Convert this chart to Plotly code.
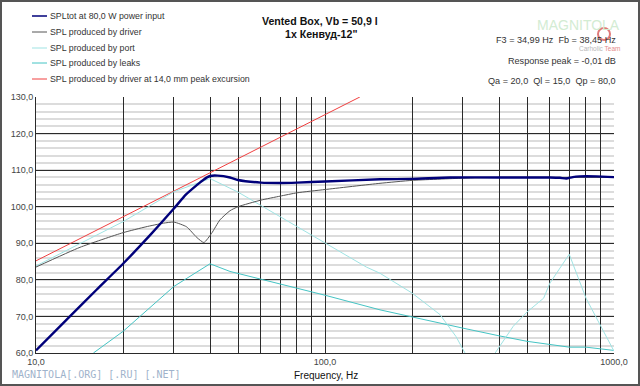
import plotly.graph_objects as go

# ---------------- data ----------------
freq_tot = [10, 13.1, 16.2, 20, 25, 30, 33, 36, 38, 40, 42.5, 46.9, 50, 60, 70, 80,
            100, 155, 200, 271, 400, 600, 650, 684, 720, 760, 870, 1000]
spl_tot = [60.7, 70.0, 77.3, 84.4, 92.5, 99.5, 103.3, 105.9, 107.4, 108.4, 108.5, 108.0,
           107.3, 106.6, 106.5, 106.6, 106.9, 107.5, 107.6, 108.0, 108.0, 108.0, 107.9,
           107.7, 108.1, 108.3, 108.3, 108.1]

freq_drv = [10, 14.2, 20, 24, 27.6, 30, 33.2, 36, 38.1, 40.5, 43.3, 46.9, 50, 60, 70, 80,
            100, 155, 200, 300, 400, 1000]
spl_drv = [83.5, 88.9, 92.9, 94.5, 95.5, 95.8, 94.5, 91.6, 90.2, 92.7, 96.4, 98.9, 100.0,
           101.8, 102.9, 103.8, 104.7, 106.4, 107.2, 107.8, 108.0, 108.0]

freq_port = [10, 20, 30, 36, 40, 50, 100, 139, 155, 200, 250, 284, 305,
             None, 388, 448, 500, 571, 600, 700, 800, 900, 1000]
spl_port = [83.8, 95.9, 104.1, 106.4, 107.7, 104.0, 90.0, 83.5, 81.8, 76.4, 70.5, 64.5, 60.0,
            None, 60.0, 67.3, 71.2, 75.0, 79.1, 87.0, 75.0, 67.3, 60.5]

freq_leak = [15.8, 20, 30, 40, 46.9, 100, 155, 200, 300, 400, 500, 700, 800, 1000]
spl_leak = [60.0, 65.9, 78.2, 84.4, 82.3, 75.8, 71.8, 69.8, 66.8, 64.7, 63.2, 61.6, 61.6, 60.7]

freq_exc = [10, 132]
spl_exc = [85.2, 130.0]

x_ticks = [10, 20, 30, 40, 50, 60, 70, 80, 90, 100, 200, 300, 400, 500, 600, 700, 800, 900, 1000]
x_labels = ["10,0", "", "", "", "", "", "", "", "", "100,0", "", "", "", "", "", "", "", "", "1000,0"]
y_ticks = [60, 70, 80, 90, 100, 110, 120, 130]
y_labels = ["60,0", "70,0", "80,0", "90,0", "100,0", "110,0", "120,0", "130,0"]

names = ["SPLtot at 80,0 W power input",
         "SPL produced by driver",
         "SPL produced by port",
         "SPL produced by leaks",
         "SPL produced by driver at 14,0 mm peak excursion"]
colors = ["#00007a", "#555555", "#9fe3e3", "#45c4c4", "#f04040"]
widths = [2.4, 1, 1, 1, 1]
shapes_ln = ["spline", "spline", "linear", "linear", "linear"]

# ---------------- layout helpers ----------------
W, H = 640, 386
L, R, T, B = 36, 614, 97, 353
def px(x):
    return (x - L) / (R - L)
def py(y):
    return (B - y) / (B - T)

FONT = "Liberation Sans, Arial, sans-serif"

fig = go.Figure()
series = [(freq_exc, spl_exc), (freq_leak, spl_leak), (freq_port, spl_port),
          (freq_drv, spl_drv), (freq_tot, spl_tot)]
order = [4, 3, 2, 1, 0]
for (fx, fy), i in zip(series, order):
    fig.add_trace(go.Scatter(x=fx, y=fy, mode="lines", name=names[i],
                             line=dict(color=colors[i], width=widths[i],
                                       shape=shapes_ln[i], smoothing=0.5),
                             connectgaps=False, showlegend=False))

fig.update_layout(
    width=W, height=H,
    margin=dict(l=L, r=W - R, t=T, b=H - B, pad=0),
    paper_bgcolor="white", plot_bgcolor="white",
    font=dict(family=FONT, size=9, color="#333333"),
    showlegend=False,
)
fig.update_xaxes(type="log", range=[1, 3], tickvals=x_ticks, ticktext=x_labels,
                 showgrid=True, gridcolor="#2a2a2a", gridwidth=1,
                 showline=True, linecolor="#2a2a2a", linewidth=1,
                 ticks="", tickfont=dict(size=9, color="#444444"), zeroline=False)
fig.update_yaxes(range=[60, 130], tickvals=y_ticks, ticktext=y_labels,
                 showgrid=True, gridcolor="#2a2a2a", gridwidth=1,
                 showline=True, linecolor="#2a2a2a", linewidth=1,
                 ticks="", tickfont=dict(size=9, color="#444444"), zeroline=False,
                 minor=dict(dtick=2, showgrid=True, gridcolor="#dcdcdc", gridwidth=2))

shapes = []
annots = []
# manual legend
rows = [16, 32, 48, 63, 79]
for i, yy in enumerate(rows):
    shapes.append(dict(type="line", xref="paper", yref="paper",
                       x0=px(32), x1=px(47), y0=py(yy), y1=py(yy),
                       line=dict(color=colors[i], width=1.5 if i == 0 else 1)))
    annots.append(dict(xref="paper", yref="paper", x=px(48), y=py(yy), text=names[i],
                       showarrow=False, xanchor="left", yanchor="middle",
                       font=dict(family=FONT, size=8.8, color="#333333")))
# title
annots.append(dict(xref="paper", yref="paper", x=px(320), y=py(21),
                   text="<b>Vented Box, Vb = 50,9 l</b>", showarrow=False,
                   xanchor="center", yanchor="middle",
                   font=dict(family=FONT, size=10.6, color="#111111")))
annots.append(dict(xref="paper", yref="paper", x=px(321), y=py(34),
                   text="<b>1x Кенвуд-12\"</b>", showarrow=False,
                   xanchor="center", yanchor="middle",
                   font=dict(family=FONT, size=10.6, color="#111111")))
# watermark
annots.append(dict(xref="paper", yref="paper", x=px(578), y=py(25),
                   text="MAGNITOLA", showarrow=False, xanchor="center", yanchor="middle",
                   font=dict(family=FONT, size=14, color="#d3ecd3")))
annots.append(dict(xref="paper", yref="paper", x=px(599), y=py(48),
                   text="Carholic <span style='color:#e58a8a'>Team</span>", showarrow=False,
                   xanchor="center", yanchor="middle",
                   font=dict(family=FONT, size=6.5, color="#b8b8b8")))
shapes.append(dict(type="circle", xref="paper", yref="paper",
                   x0=px(598), x1=px(610), y0=py(40), y1=py(28),
                   line=dict(color="#e07878", width=2)))
# right-hand info text
info = ["F3 = 34,99 Hz  Fb = 38,45 Hz", "Response peak = -0,01 dB",
        "Qa = 20,0  Ql = 15,0  Qp = 80,0"]
for txt, yy in zip(info, [40, 60.5, 80.5]):
    annots.append(dict(xref="paper", yref="paper", x=px(618), y=py(yy), text=txt,
                       showarrow=False, xanchor="right", yanchor="middle",
                       font=dict(family=FONT, size=9.1, color="#333333")))
# axis title and site text
annots.append(dict(xref="paper", yref="paper", x=px(326), y=py(375),
                   text="Frequency, Hz", showarrow=False, xanchor="center", yanchor="middle",
                   font=dict(family=FONT, size=10, color="#111111")))
annots.append(dict(xref="paper", yref="paper", x=px(10), y=py(374),
                   text="MAGNITOLA[.ORG] [.RU] [.NET]", showarrow=False,
                   xanchor="left", yanchor="middle",
                   font=dict(family="DejaVu Sans Mono, monospace", size=10, color="#9fb3cb")))
# outer frame
shapes.append(dict(type="rect", xref="paper", yref="paper",
                   x0=px(1), x1=px(639), y0=py(385), y1=py(1),
                   line=dict(color="#555555", width=2)))

fig.update_layout(shapes=shapes, annotations=annots)
fig.write_html("out.html", config={"displayModeBar": False},
               post_script="document.body.style.margin='0';document.body.style.overflow='hidden';")
